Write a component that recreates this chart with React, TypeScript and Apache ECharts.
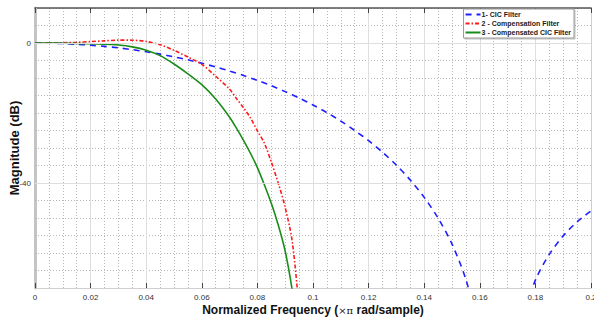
import React, { useEffect, useRef } from "react";
import * as echarts from "echarts";

// Frequencies (×π rad/sample) and magnitudes (dB)
const cicFreq = [
  0, 0.005, 0.01, 0.015, 0.02, 0.025, 0.03, 0.035, 0.04, 0.045, 0.05, 0.055,
  0.06, 0.065, 0.07, 0.075, 0.08, 0.085, 0.09, 0.095, 0.1, 0.105, 0.11, 0.115,
  0.12, 0.125, 0.13, 0.135, 0.14, 0.145, 0.15, 0.155, 0.16, 0.165, 0.17, 0.175,
  0.18, 0.185, 0.19, 0.195, 0.2,
];
const cicDb = [
  0, -0.04, -0.15, -0.35, -0.62, -0.97, -1.39, -1.9, -2.5, -3.17, -3.95, -4.81,
  -5.77, -6.83, -8.0, -9.28, -10.68, -12.2, -13.89, -15.7, -17.72, -19.9,
  -22.31, -25.0, -27.91, -31.2, -34.91, -39.16, -44.11, -50.04, -57.45, -67.56,
  -82.6, -100, -100, -79.1, -67.75, -60.39, -55.11, -51.1, -48.0,
];
const compFreq = [
  0, 0.005, 0.01, 0.015, 0.02, 0.025, 0.03, 0.035, 0.04, 0.045, 0.05, 0.055,
  0.06, 0.065, 0.07, 0.0725, 0.075, 0.0775, 0.08, 0.0825, 0.085, 0.0875, 0.09,
  0.0925, 0.095, 0.0975,
];
const compensationDb = [
  0, 0.02, 0.08, 0.2, 0.4, 0.62, 0.82, 0.8, 0.45, -0.5, -2.1, -4.0, -6.1, -9.5,
  -13.2, -15.9, -18.5, -21.4, -25.1, -28.6, -34.0, -40.0, -47.0, -56.5, -76,
  -100,
];
const compensatedDb = [
  0, -0.02, -0.07, -0.15, -0.22, -0.35, -0.57, -1.1, -2.05, -3.6, -6.0, -8.8,
  -11.9, -16.0, -21.2, -24.4, -27.8, -31.5, -35.6, -40.5, -45.8, -52.0, -59.5,
  -70.5, -85, -105,
];
const seriesNames = [
  "1- CIC Filter",
  "2 - Compensation Filter",
  "3 - Compensated CIC Filter",
];
const yLabelValues = [0, -40];

const pairs = (xs: number[], ys: number[]) => xs.map((x, i) => [x, ys[i]]);

export default function App() {
  const ref = useRef<HTMLDivElement>(null);
  useEffect(() => {
    if (!ref.current) return;
    const chart = echarts.init(ref.current, null, { renderer: "svg" });
    const font = "Liberation Sans, Arial, sans-serif";
    chart.setOption({
      animation: false,
      backgroundColor: "#fff",
      textStyle: { fontFamily: font },
      grid: {
        left: 35,
        right: 3,
        top: 8,
        bottom: 32,
        containLabel: false,
        outerBoundsMode: "none",
      },
      legend: {
        orient: "vertical",
        right: 20,
        top: 9,
        data: seriesNames,
        itemWidth: 15,
        itemHeight: 6,
        itemGap: 2,
        padding: [2, 3, 2, 1],
        backgroundColor: "#fff",
        borderColor: "#999",
        borderWidth: 1,
        shadowColor: "rgba(0,0,0,0.25)",
        shadowOffsetX: 1,
        shadowOffsetY: 1,
        shadowBlur: 1,
        itemStyle: { opacity: 0 },
        textStyle: {
          fontSize: 7,
          fontWeight: "bold",
          color: "#222",
          padding: [0, 0, 0, -4],
        },
      },
      xAxis: [
        {
          type: "value",
          min: 0,
          max: 0.2,
          interval: 0.02,
          position: "bottom",
          name: "{b|Normalized Frequency (}{s|×π}{b| rad/sample)}",
          nameLocation: "middle",
          nameGap: 16,
          nameMoveOverlap: false,
          nameTextStyle: {
            rich: {
              b: { fontFamily: font, fontSize: 12, fontWeight: "bold", color: "#111" },
              s: { fontFamily: "DejaVu Serif, serif", fontSize: 10, color: "#111" },
            },
          },
          axisLine: { show: true, onZero: false, lineStyle: { color: "#cfcfcf", width: 1 } },
          axisTick: { show: true, inside: true, length: 5, lineStyle: { color: "#444" } },
          axisLabel: {
            fontSize: 8,
            color: "#333",
            margin: 5,
            formatter: (v: number) => (v === 0 ? "0" : String(+v.toFixed(2))),
          },
          splitLine: { show: true, lineStyle: { color: "#dedede", width: 1 } },
          minorTick: { show: false, splitNumber: 4 },
          minorSplitLine: {
            show: true,
            lineStyle: { color: "#b8b8b8", type: [1, 2], width: 1 },
          },
        },
        {
          type: "value",
          min: 0,
          max: 0.2,
          interval: 0.02,
          position: "top",
          axisLine: { show: true, onZero: false, lineStyle: { color: "#555", width: 1.5 } },
          axisTick: { show: true, inside: true, length: 5, lineStyle: { color: "#444" } },
          axisLabel: { show: false },
          splitLine: { show: false },
        },
      ],
      yAxis: [
        {
          type: "value",
          min: -70,
          max: 10,
          interval: 5,
          position: "left",
          name: "Magnitude (dB)",
          nameLocation: "middle",
          nameGap: 14,
          nameMoveOverlap: false,
          nameTextStyle: { fontSize: 13, fontWeight: "bold", color: "#111", fontFamily: font },
          axisLine: { show: true, onZero: false, lineStyle: { color: "#c4c4c4", width: 3 } },
          axisTick: {
            show: true,
            inside: true,
            length: 2,
            lineStyle: { color: "#bbb" },
          },
          axisLabel: {
            fontSize: 8,
            color: "#333",
            margin: 4,
            formatter: (v: number) => (yLabelValues.includes(v) ? String(v) : ""),
          },
          splitLine: { show: true, lineStyle: { color: "#b8b8b8", type: [1, 2], width: 1 } },
        },
        {
          type: "value",
          min: -70,
          max: 10,
          interval: 5,
          position: "right",
          axisLine: { show: true, onZero: false, lineStyle: { color: "#cfcfcf", width: 1 } },
          axisTick: {
            show: true,
            inside: true,
            length: 5,
            customValues: yLabelValues,
            lineStyle: { color: "#444" },
          },
          axisLabel: { show: false },
          splitLine: { show: false },
        },
      ],
      series: [
        {
          type: "line",
          name: "_grid",
          data: [],
          silent: true,
          markLine: {
            silent: true,
            symbol: "none",
            label: { show: false },
            lineStyle: { color: "#dedede", type: "solid", width: 1 },
            data: yLabelValues.map((v) => ({ yAxis: v })),
          },
        },
        {
          type: "line",
          name: seriesNames[0],
          data: pairs(cicFreq, cicDb),
          showSymbol: false,
          symbol: "none",
          smooth: 0.3,
          clip: true,
          lineStyle: { color: "#1f1fff", width: 1.6, type: [6, 5] },
          itemStyle: { color: "#1f1fff" },
        },
        {
          type: "line",
          name: seriesNames[1],
          data: pairs(compFreq, compensationDb),
          showSymbol: false,
          symbol: "none",
          smooth: 0.3,
          clip: true,
          lineStyle: { color: "#ff1a1a", width: 1.6, type: [4, 2, 1.5, 2] },
          itemStyle: { color: "#ff1a1a" },
        },
        {
          type: "line",
          name: seriesNames[2],
          data: pairs(compFreq, compensatedDb),
          showSymbol: false,
          symbol: "none",
          smooth: 0.3,
          clip: true,
          lineStyle: { color: "#1a8c1a", width: 1.6 },
          itemStyle: { color: "#1a8c1a" },
        },
      ],
    });
    return () => chart.dispose();
  }, []);
  return (
    <div
      ref={ref}
      style={{ position: "fixed", left: 0, top: 0, width: 594, height: 320, background: "#fff" }}
    />
  );
}
